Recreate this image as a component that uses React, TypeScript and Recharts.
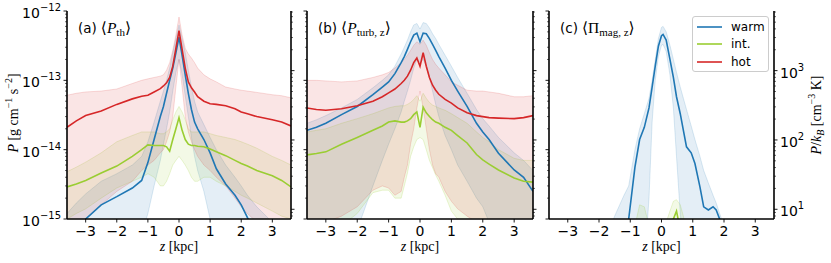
import React from 'react';
import { ComposedChart, Line, Area, XAxis, YAxis, Legend } from 'recharts';

const W = 831;
const H = 263;
const SANS = "'DejaVu Sans', sans-serif";
const SERIF = "'Liberation Serif', 'DejaVu Serif', serif";
const COLOR_WARM = '#1f77b4';
const COLOR_INT = '#9acd32';
const COLOR_HOT = '#d62728';
const K_B = 1.380649e-16;
const LEGEND_ORDER = ['warm', 'int.', 'hot'];

const X_DOMAIN: [number, number] = [-3.6, 3.6];
const Y_DOMAIN: [number, number] = [1e-15, 1e-12];
const KB_DOMAIN: [number, number] = [1e-15 / K_B, 1e-12 / K_B];

const X_TICKS = [-3, -2, -1, 0, 1, 2, 3];
const X_TICK_LABELS = ['−3', '−2', '−1', '0', '1', '2', '3'];
const Y_TICKS = [1e-15, 2e-15, 3e-15, 4e-15, 5e-15, 6e-15, 7e-15, 8e-15, 9e-15, 1e-14, 2e-14, 3e-14, 4e-14, 5e-14, 6e-14, 7e-14, 8e-14, 9e-14, 1e-13, 2e-13, 3e-13, 4e-13, 5e-13, 6e-13, 7e-13, 8e-13, 9e-13, 1e-12];
const KB_TICKS = [8, 9, 10, 20, 30, 40, 50, 60, 70, 80, 90, 100, 200, 300, 400, 500, 600, 700, 800, 900, 1000, 2000, 3000, 4000, 5000, 6000, 7000];

// z grid for panels (a) and (b)
const Z = [-3.6, -3.3, -3, -2.5, -2, -1.5, -1.2, -1, -0.8, -0.6, -0.5, -0.4, -0.3, -0.2, -0.1, 0, 0.1, 0.2, 0.3, 0.4, 0.5, 0.6, 0.8, 1, 1.2, 1.5, 1.8, 2, 2.2, 2.5, 3, 3.3, 3.6];

// (a) thermal pressure
const A_WARM = [5e-16, 7e-16, 1e-15, 1.6e-15, 2.1e-15, 2.8e-15, 3.6e-15, 6.5e-15, 1.4e-14, 3e-14, 4.2e-14, 6.5e-14, 1e-13, 1.5e-13, 2.5e-13, 4.2e-13, 2.3e-13, 1.2e-13, 6.5e-14, 3.8e-14, 2.5e-14, 2e-14, 1.4e-14, 9e-15, 5.3e-15, 3.2e-15, 2.2e-15, 1.6e-15, 1.05e-15, 6e-16, 3e-16, 2e-16, 1.5e-16];
const A_WARM_LO = [1e-16, 1e-16, 1e-16, 1e-16, 1.5e-16, 3e-16, 6e-16, 1.2e-15, 3e-15, 7e-15, 1.2e-14, 2e-14, 3.5e-14, 7e-14, 1.3e-13, 2e-13, 1.2e-13, 6e-14, 3e-14, 1.5e-14, 8e-15, 5e-15, 2.5e-15, 1e-15, 5e-16, 2e-16, 1e-16, 1e-16, 1e-16, 1e-16, 1e-16, 1e-16, 1e-16];
const A_WARM_HI = [1.2e-15, 1.7e-15, 2.3e-15, 3.5e-15, 4.5e-15, 6e-15, 8e-15, 1.3e-14, 2.5e-14, 5e-14, 7e-14, 1e-13, 1.5e-13, 2.5e-13, 4e-13, 6.3e-13, 4e-13, 2.5e-13, 1.4e-13, 8e-14, 5e-14, 3.5e-14, 2.3e-14, 1.5e-14, 1e-14, 6e-15, 4e-15, 3e-15, 2.2e-15, 1.5e-15, 9e-16, 6e-16, 4e-16];
const A_INT = [2.9e-15, 3.2e-15, 3.6e-15, 4.6e-15, 5.8e-15, 8e-15, 1e-14, 1.17e-14, 1.15e-14, 1.15e-14, 1.15e-14, 1.1e-14, 9.5e-15, 1.4e-14, 2e-14, 2.9e-14, 1.9e-14, 1.4e-14, 1.2e-14, 1.15e-14, 1.15e-14, 1.12e-14, 1.1e-14, 1.02e-14, 9.3e-15, 8.2e-15, 7e-15, 6.3e-15, 5.8e-15, 5e-15, 4.2e-15, 3.6e-15, 2.9e-15];
const A_INT_LO = [1e-15, 1.2e-15, 1.4e-15, 2e-15, 2.8e-15, 3.5e-15, 4e-15, 4.5e-15, 4e-15, 3e-15, 3e-15, 3.5e-15, 4.5e-15, 6e-15, 7e-15, 8e-15, 7e-15, 6e-15, 5e-15, 4e-15, 3.5e-15, 3.5e-15, 4e-15, 4e-15, 3.5e-15, 3e-15, 2.5e-15, 2.2e-15, 2e-15, 1.7e-15, 1.3e-15, 1.1e-15, 1e-15];
const A_INT_HI = [4.8e-15, 5.6e-15, 6.6e-15, 9e-15, 1.3e-14, 1.6e-14, 1.8e-14, 1.8e-14, 1.8e-14, 1.7e-14, 1.7e-14, 1.8e-14, 2e-14, 2.7e-14, 3.5e-14, 4.2e-14, 3.5e-14, 2.7e-14, 2e-14, 1.8e-14, 1.8e-14, 1.8e-14, 1.8e-14, 1.7e-14, 1.6e-14, 1.5e-14, 1.4e-14, 1.3e-14, 1.2e-14, 1.05e-14, 8e-15, 7e-15, 6e-15];
const A_HOT = [2.1e-14, 2.6e-14, 3.1e-14, 3.6e-14, 4.5e-14, 5.4e-14, 5.9e-14, 6.1e-14, 6.8e-14, 7.6e-14, 8.3e-14, 9.2e-14, 1.1e-13, 1.6e-13, 2.9e-13, 5.2e-13, 2.8e-13, 1.5e-13, 9.5e-14, 7.8e-14, 6.8e-14, 5.8e-14, 5e-14, 4.6e-14, 4.5e-14, 4.3e-14, 3.9e-14, 3.5e-14, 3.3e-14, 3e-14, 2.7e-14, 2.5e-14, 2.2e-14];
const A_HOT_LO = [5e-16, 7e-16, 1e-15, 1.6e-15, 2.5e-15, 3.5e-15, 5e-15, 6e-15, 7e-15, 9e-15, 1e-14, 1.3e-14, 1.8e-14, 3e-14, 8e-14, 2e-13, 8e-14, 3e-14, 1.8e-14, 1.3e-14, 1e-14, 8e-15, 6e-15, 5e-15, 4e-15, 3e-15, 2e-15, 1.5e-15, 1.2e-15, 9e-16, 6e-16, 5e-16, 4e-16];
const A_HOT_HI = [6.1e-14, 6.5e-14, 6.8e-14, 7e-14, 7.5e-14, 9e-14, 1e-13, 1.05e-13, 1.1e-13, 1.15e-13, 1.2e-13, 1.4e-13, 1.8e-13, 2.7e-13, 4.5e-13, 8.2e-13, 4.5e-13, 2.9e-13, 2.4e-13, 2.1e-13, 1.8e-13, 1.5e-13, 1.2e-13, 1.05e-13, 9.5e-14, 8e-14, 7.5e-14, 7.2e-14, 7e-14, 6.7e-14, 6.2e-14, 6e-14, 5.6e-14];

// (b) turbulent pressure
const B_WARM = [1.9e-14, 2.1e-14, 2.4e-14, 3.2e-14, 4.2e-14, 6.2e-14, 8e-14, 9.5e-14, 1.25e-13, 1.8e-13, 2.2e-13, 2.8e-13, 3.6e-13, 4.5e-13, 4.8e-13, 3.6e-13, 4.8e-13, 4.7e-13, 4e-13, 3.3e-13, 2.7e-13, 2.2e-13, 1.5e-13, 1e-13, 7e-14, 4.2e-14, 2.4e-14, 1.8e-14, 1.4e-14, 8.9e-15, 5.1e-15, 4e-15, 2.5e-15];
const B_WARM_LO = [1e-16, 1e-16, 1e-16, 2e-16, 7e-16, 3e-15, 7e-15, 1.2e-14, 2e-14, 3.5e-14, 5e-14, 7e-14, 1e-13, 1.5e-13, 2e-13, 1.8e-13, 2e-13, 1.6e-13, 1.1e-13, 7e-14, 4.5e-14, 3e-14, 1.6e-14, 1e-14, 6e-15, 3.5e-15, 2e-15, 1.5e-15, 9e-16, 4e-16, 2e-16, 1e-16, 1e-16];
const B_WARM_HI = [2.4e-14, 2.7e-14, 3.1e-14, 4e-14, 5.3e-14, 7.8e-14, 1e-13, 1.2e-13, 1.6e-13, 2.4e-13, 3e-13, 3.8e-13, 5e-13, 6.3e-13, 6.6e-13, 5.5e-13, 6.8e-13, 6.6e-13, 5.7e-13, 4.7e-13, 4e-13, 3.3e-13, 2.3e-13, 1.6e-13, 1.1e-13, 6.5e-14, 3.8e-14, 2.8e-14, 2.2e-14, 1.5e-14, 9e-15, 7e-15, 5e-15];
const B_INT = [8.4e-15, 8.8e-15, 9.3e-15, 1.2e-14, 1.5e-14, 1.9e-14, 2.2e-14, 2.5e-14, 2.6e-14, 2.5e-14, 2.5e-14, 2.6e-14, 2.8e-14, 3.2e-14, 3.5e-14, 2.1e-14, 4.1e-14, 3.4e-14, 3e-14, 2.7e-14, 2.5e-14, 2.4e-14, 2.1e-14, 1.9e-14, 1.6e-14, 1.25e-14, 8.5e-15, 7.1e-15, 6.2e-15, 5.1e-15, 3.9e-15, 3.5e-15, 3.4e-15];
const B_INT_LO = [5e-16, 5e-16, 6e-16, 8e-16, 1.2e-15, 2.4e-15, 2.6e-15, 2.6e-15, 2e-15, 2e-15, 3e-15, 4.6e-15, 8e-15, 1.1e-14, 1.4e-14, 1.5e-14, 1.4e-14, 1e-14, 7e-15, 5.5e-15, 4.3e-15, 3.5e-15, 2.2e-15, 1.3e-15, 1e-15, 9e-16, 8e-16, 8e-16, 8e-16, 8e-16, 7e-16, 7e-16, 6e-16];
const B_INT_HI = [1.8e-14, 1.9e-14, 2e-14, 2.4e-14, 2.8e-14, 3.3e-14, 3.7e-14, 4e-14, 4.2e-14, 4.3e-14, 4.3e-14, 4.5e-14, 4.8e-14, 5.3e-14, 6e-14, 5e-14, 6.5e-14, 5.5e-14, 4.8e-14, 4.4e-14, 4.2e-14, 4e-14, 3.7e-14, 3.3e-14, 2.9e-14, 2.4e-14, 1.8e-14, 1.5e-14, 1.3e-14, 1e-14, 7.5e-15, 7e-15, 7e-15];
const B_HOT = [4e-14, 3.8e-14, 3.7e-14, 3.9e-14, 4.3e-14, 5e-14, 5.8e-14, 6.6e-14, 7.5e-14, 9e-14, 1e-13, 1.15e-13, 1.4e-13, 1.8e-13, 2.1e-13, 1.6e-13, 2.5e-13, 1.6e-13, 1.1e-13, 8.5e-14, 7.2e-14, 6.3e-14, 5.3e-14, 4.7e-14, 4e-14, 3.4e-14, 3.1e-14, 3e-14, 2.9e-14, 2.85e-14, 2.8e-14, 2.9e-14, 3.1e-14];
const B_HOT_LO = [8e-16, 8e-16, 9e-16, 1.1e-15, 1.5e-15, 2.6e-15, 3e-15, 2.8e-15, 2.2e-15, 2.5e-15, 4e-15, 6e-15, 1.2e-14, 2e-14, 4e-14, 7e-14, 4e-14, 2e-14, 1e-14, 6e-15, 4.5e-15, 4e-15, 2.5e-15, 1.8e-15, 1.4e-15, 1.1e-15, 9e-16, 8e-16, 7e-16, 6e-16, 5e-16, 5e-16, 5e-16];
const B_HOT_HI = [1e-13, 1e-13, 9.8e-14, 9.5e-14, 9.8e-14, 1.1e-13, 1.2e-13, 1.3e-13, 1.5e-13, 1.8e-13, 2e-13, 2.3e-13, 2.7e-13, 3.2e-13, 3.6e-13, 3.3e-13, 3.8e-13, 3.2e-13, 2.5e-13, 2e-13, 1.7e-13, 1.5e-13, 1.2e-13, 9.5e-14, 8.5e-14, 7.2e-14, 7e-14, 7e-14, 6.8e-14, 6.5e-14, 5.8e-14, 5.8e-14, 6e-14];

// (c) magnetic stress: own z grid
const ZC = [-3.6, -2, -1.5, -1.2, -1.05, -0.85, -0.7, -0.55, -0.4, -0.3, -0.2, -0.1, 0, 0.05, 0.15, 0.27, 0.38, 0.48, 0.6, 0.7, 0.8, 0.95, 1.07, 1.23, 1.35, 1.5, 1.65, 1.75, 1.86, 2, 2.5, 3.6];
const C_WARM = [1e-17, 5e-17, 2e-16, 5e-16, 1e-15, 5.6e-15, 1.4e-14, 2.1e-14, 4e-14, 8e-14, 1.6e-13, 3.1e-13, 4.4e-13, 4.6e-13, 3.8e-13, 2e-13, 1.1e-13, 5.8e-14, 3.3e-14, 1.9e-14, 1.1e-14, 9e-15, 6.3e-15, 2.9e-15, 1.5e-15, 1.35e-15, 1.5e-15, 1.35e-15, 1e-15, 4e-16, 5e-17, 1e-17];
const C_WARM_LO = [1e-17, 1e-17, 1e-17, 1e-17, 1e-17, 1e-17, 5e-17, 2e-16, 2e-15, 2.5e-14, 1e-13, 2.2e-13, 3.2e-13, 3.3e-13, 2.6e-13, 1.2e-13, 4e-14, 8e-15, 1.2e-15, 4e-16, 1e-16, 1e-17, 1e-17, 1e-17, 1e-17, 1e-17, 1e-17, 1e-17, 1e-17, 1e-17, 1e-17, 1e-17];
const C_WARM_HI = [5e-17, 3e-16, 1.1e-15, 2.2e-15, 3e-15, 1e-14, 2e-14, 3.3e-14, 5.5e-14, 1e-13, 2e-13, 4e-13, 5.8e-13, 6e-13, 5e-13, 3.2e-13, 2e-13, 1.3e-13, 8e-14, 5.5e-14, 3.8e-14, 2.2e-14, 1.4e-14, 8e-15, 5e-15, 3.3e-15, 2.2e-15, 1.7e-15, 1.2e-15, 8e-16, 2e-16, 5e-17];
const C_INT = [1e-17, 1e-17, 5e-17, 1e-16, 1.5e-16, 2e-16, 3e-16, 3e-16, 2e-16, 1.5e-16, 1.5e-16, 2e-16, 3e-16, 3e-16, 4e-16, 6e-16, 1e-15, 1.3e-15, 7e-16, 4e-16, 2e-16, 1e-16, 5e-17, 2e-17, 1e-17, 1e-17, 1e-17, 1e-17, 1e-17, 1e-17, 1e-17, 1e-17];
const C_INT_LO = [1e-17, 1e-17, 1e-17, 1e-17, 1e-17, 1e-17, 1e-17, 1e-17, 1e-17, 1e-17, 1e-17, 1e-17, 1e-17, 1e-17, 1e-17, 1e-17, 1e-17, 1e-17, 1e-17, 1e-17, 1e-17, 1e-17, 1e-17, 1e-17, 1e-17, 1e-17, 1e-17, 1e-17, 1e-17, 1e-17, 1e-17, 1e-17];
const C_INT_HI = [1e-17, 5e-17, 2e-16, 4e-16, 5e-16, 8e-16, 1.6e-15, 1.5e-15, 8e-16, 5e-16, 4e-16, 5e-16, 6e-16, 7e-16, 9e-16, 1.3e-15, 1.8e-15, 1.9e-15, 1.6e-15, 1.1e-15, 6e-16, 3e-16, 2e-16, 1e-16, 5e-17, 2e-17, 1e-17, 1e-17, 1e-17, 1e-17, 1e-17, 1e-17];
const C_HOT = [1e-17, 1e-17, 1e-17, 1e-17, 1e-17, 1e-17, 1e-17, 1e-17, 1e-17, 1e-17, 1e-17, 1e-17, 1e-17, 1e-17, 1e-17, 1e-17, 1e-17, 1e-17, 1e-17, 1e-17, 1e-17, 1e-17, 1e-17, 1e-17, 1e-17, 1e-17, 1e-17, 1e-17, 1e-17, 1e-17, 1e-17, 1e-17];

const rowsA = Z.map((z, i) => ({
  z,
  warm: A_WARM[i], warmBand: [A_WARM_LO[i], A_WARM_HI[i]],
  int: A_INT[i], intBand: [A_INT_LO[i], A_INT_HI[i]],
  hot: A_HOT[i], hotBand: [A_HOT_LO[i], A_HOT_HI[i]],
}));
const rowsB = Z.map((z, i) => ({
  z,
  warm: B_WARM[i], warmBand: [B_WARM_LO[i], B_WARM_HI[i]],
  int: B_INT[i], intBand: [B_INT_LO[i], B_INT_HI[i]],
  hot: B_HOT[i], hotBand: [B_HOT_LO[i], B_HOT_HI[i]],
}));
const rowsC = ZC.map((z, i) => ({
  z,
  warm: C_WARM[i], warmBand: [C_WARM_LO[i], C_WARM_HI[i]],
  int: C_INT[i], intBand: [C_INT_LO[i], C_INT_HI[i]],
  hot: C_HOT[i],
}));

const AXIS_LINE = { stroke: '#000', strokeWidth: 1.6 };

function isMajor(v: number) {
  const e = Math.round(Math.log10(v));
  return { e, major: Math.abs(v / Math.pow(10, e) - 1) < 1e-6 };
}

const XTick = (props: any) => {
  const { x, y, payload, index } = props;
  const i = X_TICKS.indexOf(payload.value);
  return (
    <g key={index}>
      <line x1={x} x2={x} y1={y} y2={y + 3.5} stroke="#000" strokeWidth={0.9} />
      <text x={x} y={y + 17} textAnchor="middle" fontFamily={SANS} fontSize={14} fill="#000">
        {i >= 0 ? X_TICK_LABELS[i] : String(payload.value)}
      </text>
    </g>
  );
};

const makeLeftTick = (showLabel: boolean) => (props: any) => {
  const { x, y, payload, index } = props;
  const { e, major } = isMajor(payload.value);
  return (
    <g key={index}>
      <line x1={x} x2={x - (major ? 3.5 : 2)} y1={y} y2={y} stroke="#000" strokeWidth={major ? 0.9 : 0.6} />
      {major && showLabel ? (
        <text x={x - 6} y={y + 7} textAnchor="end" fontFamily={SANS} fontSize={14} fill="#000">
          10<tspan fontSize={10} dy={-7}>{'−' + -e}</tspan>
        </text>
      ) : null}
    </g>
  );
};

const makeRightTick = (showLabel: boolean) => (props: any) => {
  const { x, y, payload, index } = props;
  const { e, major } = isMajor(payload.value);
  return (
    <g key={index}>
      <line x1={x} x2={x + (major ? 3.5 : 2)} y1={y} y2={y} stroke="#000" strokeWidth={major ? 0.9 : 0.6} />
      {major && showLabel ? (
        <text x={x + 6} y={y + 7} textAnchor="start" fontFamily={SANS} fontSize={14} fill="#000">
          10<tspan fontSize={10} dy={-7}>{String(e)}</tspan>
        </text>
      ) : null}
    </g>
  );
};

const XTitle = (props: any) => {
  const vb = props.viewBox || { x: 0, y: 0, width: 0, height: 0 };
  return (
    <text x={vb.x + vb.width / 2} y={vb.y + 32} textAnchor="middle" fontFamily={SERIF} fontSize={14} fill="#000">
      <tspan fontStyle="italic">z</tspan>
      <tspan>{'\u00a0[kpc]'}</tspan>
    </text>
  );
};

// Left axis label: holds the panel title (inside the plot) and optionally the y-axis title
const LeftLabel = (props: any) => {
  const vb = props.viewBox || { x: 0, y: 0, width: 0, height: 0 };
  const { tag, sym, sub, italic, yTitle } = props;
  const cx = vb.x + vb.width - 49;
  const cy = vb.y + vb.height / 2 - 2;
  return (
    <g>
      {yTitle ? (
        <text transform={`translate(${cx},${cy}) rotate(-90)`} textAnchor="middle" fontFamily={SERIF} fontSize={14} fill="#000">
          <tspan fontStyle="italic">P</tspan>
          <tspan>{'\u00a0[g\u00a0cm'}</tspan>
          <tspan fontSize={10} dy={-6}>−1</tspan>
          <tspan dy={6}>{'\u00a0s'}</tspan>
          <tspan fontSize={10} dy={-6}>−2</tspan>
          <tspan dy={6}>]</tspan>
        </text>
      ) : null}
      <text x={vb.x + vb.width + 11} y={vb.y + 22} fill="#000">
        <tspan fontFamily={SANS} fontSize={13.5}>{tag}</tspan>
        <tspan fontFamily={SERIF} fontSize={15.5} dx={4}>⟨</tspan>
        <tspan fontFamily={SERIF} fontSize={15.5} fontStyle={italic ? 'italic' : 'normal'}>{sym}</tspan>
        <tspan fontFamily={SERIF} fontSize={11} dy={3}>{sub}</tspan>
        <tspan fontFamily={SERIF} fontSize={15.5} dy={-3}>⟩</tspan>
      </text>
    </g>
  );
};

const RightYTitle = (props: any) => {
  const vb = props.viewBox || { x: 0, y: 0, width: 0, height: 0 };
  const cx = vb.x + 47;
  const cy = vb.y + vb.height / 2;
  return (
    <text transform={`translate(${cx},${cy}) rotate(-90)`} textAnchor="middle" fontFamily={SERIF} fontSize={14} fill="#000">
      <tspan fontStyle="italic">P</tspan>
      <tspan>/</tspan>
      <tspan fontStyle="italic">k</tspan>
      <tspan fontStyle="italic" fontSize={10} dy={3}>B</tspan>
      <tspan dy={-3}>{'\u00a0[cm'}</tspan>
      <tspan fontSize={10} dy={-6}>−3</tspan>
      <tspan dy={6}>{'\u00a0K]'}</tspan>
    </text>
  );
};

const LegendBox = (props: any) => {
  const payload = (props.payload || [])
    .filter((p: any) => LEGEND_ORDER.indexOf(p.value) >= 0)
    .sort((a: any, b: any) => LEGEND_ORDER.indexOf(a.value) - LEGEND_ORDER.indexOf(b.value));
  return (
    <div style={{ boxSizing: 'border-box', width: 77, height: 56, border: '1px solid #cccccc', borderRadius: 3, background: 'rgba(255,255,255,0.8)', paddingTop: 1.5, fontFamily: SANS, fontSize: 12, color: '#000' }}>
      {payload.map((e: any) => (
        <div key={e.value} style={{ display: 'flex', alignItems: 'center', height: 17.3 }}>
          <svg width={34} height={10} style={{ display: 'block' }}>
            <line x1={4} x2={29} y1={5} y2={5} stroke={e.color} strokeWidth={1.6} />
          </svg>
          <span style={{ marginLeft: 4, lineHeight: '12px' }}>{e.value}</span>
        </div>
      ))}
    </div>
  );
};

type PanelProps = {
  rows: any[];
  plotLeft: number;
  plotRight: number;
  tag: string;
  sym: string;
  sub: string;
  italic: boolean;
  leftLabels: boolean;
  rightLabels: boolean;
  leftTitle?: boolean;
  rightTitle?: boolean;
  legend?: boolean;
  hotBand?: boolean;
};

function Panel(p: PanelProps) {
  const margin = { top: 11, bottom: 14, left: p.plotLeft - 40, right: W - p.plotRight - 50 };
  return (
    <div style={{ position: 'absolute', left: 0, top: 0 }}>
      <ComposedChart width={W} height={H} data={p.rows} margin={margin}>
        <XAxis
          dataKey="z" type="number" domain={X_DOMAIN} ticks={X_TICKS} interval={0} allowDataOverflow
          tickSize={0} tickMargin={0} tickLine={false} axisLine={AXIS_LINE} height={30}
          tick={XTick} label={<XTitle />}
        />
        <XAxis
          xAxisId="top" orientation="top" dataKey="z" type="number" domain={X_DOMAIN} allowDataOverflow
          tick={false} tickLine={false} axisLine={AXIS_LINE} height={0}
        />
        <YAxis
          type="number" scale="log" domain={Y_DOMAIN} allowDataOverflow ticks={Y_TICKS} interval={0}
          tickSize={0} tickMargin={0} tickLine={false} axisLine={AXIS_LINE} width={40}
          tick={makeLeftTick(p.leftLabels)}
          label={<LeftLabel tag={p.tag} sym={p.sym} sub={p.sub} italic={p.italic} yTitle={!!p.leftTitle} />}
        />
        <YAxis
          yAxisId="kb" orientation="right" type="number" scale="log" domain={KB_DOMAIN} allowDataOverflow
          ticks={KB_TICKS} interval={0} tickSize={0} tickMargin={0} tickLine={false} axisLine={AXIS_LINE} width={50}
          tick={makeRightTick(p.rightLabels)} label={p.rightTitle ? <RightYTitle /> : undefined}
        />
        <Area type="linear" dataKey="warmBand" fill={COLOR_WARM} fillOpacity={0.12} stroke={COLOR_WARM} strokeOpacity={0.2} strokeWidth={0.8} isAnimationActive={false} legendType="none" dot={false} activeDot={false} />
        <Area type="linear" dataKey="intBand" fill={COLOR_INT} fillOpacity={0.12} stroke={COLOR_INT} strokeOpacity={0.25} strokeWidth={0.8} isAnimationActive={false} legendType="none" dot={false} activeDot={false} />
        {p.hotBand ? (
          <Area type="linear" dataKey="hotBand" fill={COLOR_HOT} fillOpacity={0.12} stroke={COLOR_HOT} strokeOpacity={0.2} strokeWidth={0.8} isAnimationActive={false} legendType="none" dot={false} activeDot={false} />
        ) : null}
        <Line type="linear" dataKey="warm" name="warm" stroke={COLOR_WARM} strokeWidth={1.6} dot={false} activeDot={false} isAnimationActive={false} legendType="plainline" />
        <Line type="linear" dataKey="int" name="int." stroke={COLOR_INT} strokeWidth={1.6} dot={false} activeDot={false} isAnimationActive={false} legendType="plainline" />
        <Line type="linear" dataKey="hot" name="hot" stroke={COLOR_HOT} strokeWidth={1.6} dot={false} activeDot={false} isAnimationActive={false} legendType="plainline" />
        {p.legend ? (
          <Legend
            layout="horizontal" verticalAlign="middle" align="center"
            content={<LegendBox />}
            wrapperStyle={{ position: 'absolute', left: 692, top: 16, width: 77, height: 56 }}
          />
        ) : null}
      </ComposedChart>
    </div>
  );
}

export default function App() {
  return (
    <div style={{ position: 'absolute', left: 0, top: 0, width: W, height: H, background: '#fff', overflow: 'hidden' }}>
      <Panel rows={rowsA} plotLeft={67} plotRight={291} tag="(a)" sym="P" sub="th" italic leftLabels rightLabels={false} leftTitle hotBand />
      <Panel rows={rowsB} plotLeft={307} plotRight={533} tag="(b)" sym="P" sub="turb, z" italic leftLabels={false} rightLabels={false} hotBand />
      <Panel rows={rowsC} plotLeft={549} plotRight={774} tag="(c)" sym="Π" sub="mag, z" italic={false} leftLabels={false} rightLabels rightTitle legend />
    </div>
  );
}
